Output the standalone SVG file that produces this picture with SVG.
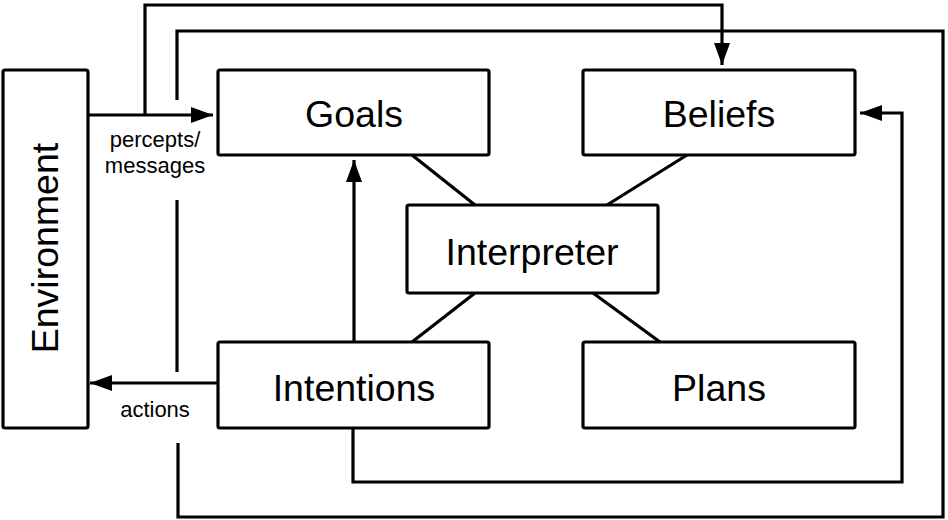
<svg xmlns="http://www.w3.org/2000/svg" width="948" height="520" viewBox="0 0 948 520">
<style>
.box{fill:#fff;stroke:#000;stroke-width:3.2;stroke-linejoin:round}
.lbl{font-family:"Liberation Sans",Arial,Helvetica,sans-serif;font-size:37.5px;fill:#000;text-anchor:middle}
.sm{font-family:"Liberation Sans",Arial,Helvetica,sans-serif;font-size:22px;fill:#000;text-anchor:middle}
.ln{fill:none;stroke:#000;stroke-width:3.2;stroke-linejoin:miter}
</style>
<defs>
<marker id="ah" viewBox="0 0 22 16" refX="22" refY="8" markerWidth="22" markerHeight="16" markerUnits="userSpaceOnUse" orient="auto">
<path d="M0,0 L22,8 L0,16 Z" fill="#000"/>
</marker>
</defs>
<rect width="948" height="520" fill="#fff"/>
<g id="connectors">
<path class="ln" d="M145,115 V5 H722 V65" marker-end="url(#ah)"/>
<path class="ln" d="M177,100 V31 H943 V517 H178 V443"/>
<path class="ln" d="M177,200 V372"/>
<path class="ln" d="M88,115 H213" marker-end="url(#ah)"/>
<path class="ln" d="M218,383 H90" marker-end="url(#ah)"/>
<path class="ln" d="M354,342 V160" marker-end="url(#ah)"/>
<path class="ln" d="M353,428 V482 H902 V113 H860" marker-end="url(#ah)"/>
<path class="ln" d="M412,155 L475,205"/>
<path class="ln" d="M687,155 L607,205"/>
<path class="ln" d="M475,293 L412,342"/>
<path class="ln" d="M593,293 L660,342"/>
</g>
<g id="environment">
<rect class="box" x="3" y="70" width="85" height="358" rx="2"/>
<text class="lbl" transform="translate(58,248) rotate(-90)">Environment</text>
</g>
<g id="goals">
<rect class="box" x="218" y="70" width="271" height="85" rx="2"/>
<text class="lbl" x="354" y="127">Goals</text>
</g>
<g id="beliefs">
<rect class="box" x="583" y="70" width="272" height="85" rx="2"/>
<text class="lbl" x="719" y="127">Beliefs</text>
</g>
<g id="interpreter">
<rect class="box" x="407" y="205" width="251" height="88" rx="2"/>
<text class="lbl" x="532" y="265">Interpreter</text>
</g>
<g id="intentions">
<rect class="box" x="218" y="342" width="271" height="86" rx="2"/>
<text class="lbl" x="354" y="401">Intentions</text>
</g>
<g id="plans">
<rect class="box" x="583" y="342" width="272" height="86" rx="2"/>
<text class="lbl" x="719" y="401">Plans</text>
</g>
<g id="labels">
<text class="sm" x="155" y="147">percepts/</text>
<text class="sm" x="155" y="173">messages</text>
<text class="sm" x="155" y="417">actions</text>
</g>
</svg>
